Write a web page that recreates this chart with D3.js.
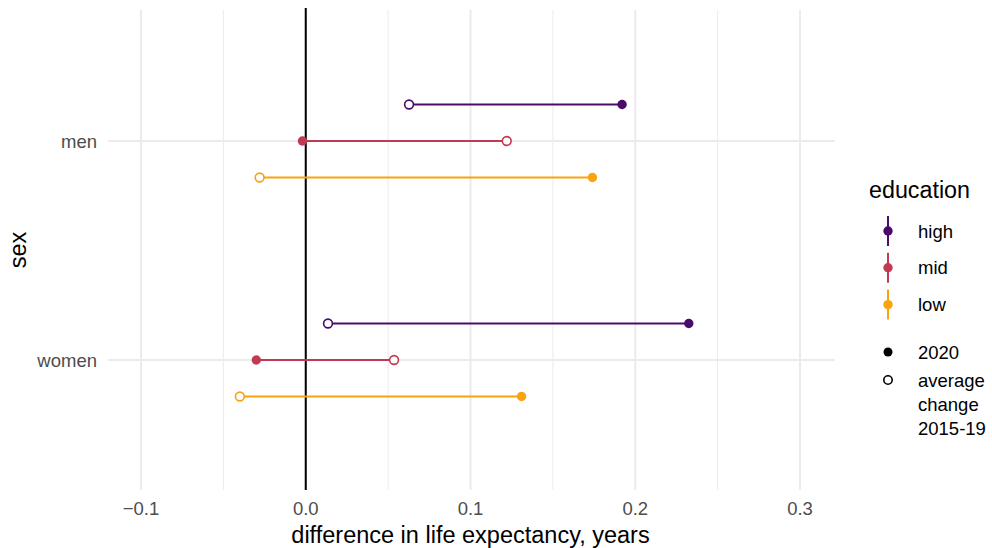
<!DOCTYPE html>
<html><head><meta charset="utf-8">
<script src="https://cdn.jsdelivr.net/npm/d3@7"></script>
<style>body{margin:0;background:#fff;} text{font-family:"Liberation Sans",Arial,Helvetica,sans-serif;}</style>
</head><body><svg id="c" width="992" height="548"></svg>
<script>
const sexes = ["men","women"];
const education = ["high","mid","low"];
const colors = ["#4a0c6b","#c03a52","#f9a30f"];
// values per sex, in education order
const value2020 = {men:[0.192,-0.002,0.174], women:[0.2325,-0.030,0.131]};
const avgChange = {men:[0.0627,0.122,-0.028], women:[0.0135,0.0536,-0.040]};
const xTicks = [-0.1,0,0.1,0.2,0.3];
const xMinor = [-0.05,0.05,0.15,0.25];

const svg = d3.select("#c");
const L=108,R=835,T=10,B=490;
const x = d3.scaleLinear().range([L,R]);
x.domain([-0.1 - (141-L)/1647.5, 0.3 + (R-800)/1647.5]);
const y = d3.scalePoint().domain(sexes).range([141,360]);
const dodge = d3.scalePoint().domain(education).range([-36.5,36.5]);

const g = svg.append("g");
g.selectAll(".minor").data(xMinor).join("line").attr("x1",d=>x(d)).attr("x2",d=>x(d)).attr("y1",T).attr("y2",B)
 .attr("stroke","#ebebeb").attr("stroke-width",1);
g.selectAll(".major").data(xTicks).join("line").attr("x1",d=>x(d)).attr("x2",d=>x(d)).attr("y1",T).attr("y2",B)
 .attr("stroke","#ebebeb").attr("stroke-width",2);
g.selectAll(".hy").data(sexes).join("line").attr("x1",L).attr("x2",R).attr("y1",d=>y(d)).attr("y2",d=>y(d))
 .attr("stroke","#ebebeb").attr("stroke-width",2);
g.append("line").attr("x1",x(0)).attr("x2",x(0)).attr("y1",T-2).attr("y2",B).attr("stroke","#000").attr("stroke-width",2);

const rows=[];
sexes.forEach(s=>education.forEach((e,i)=>rows.push({s,e,i,v:value2020[s][i],a:avgChange[s][i]})));
g.selectAll(".seg").data(rows).join("line")
 .attr("x1",d=>x(d.a)).attr("x2",d=>x(d.v))
 .attr("y1",d=>y(d.s)+dodge(d.e)).attr("y2",d=>y(d.s)+dodge(d.e))
 .attr("stroke",d=>colors[d.i]).attr("stroke-width",2.2);
g.selectAll(".open").data(rows).join("circle")
 .attr("cx",d=>x(d.a)).attr("cy",d=>y(d.s)+dodge(d.e)).attr("r",4.4)
 .attr("fill","#fff").attr("stroke",d=>colors[d.i]).attr("stroke-width",1.6);
g.selectAll(".fill").data(rows).join("circle")
 .attr("cx",d=>x(d.v)).attr("cy",d=>y(d.s)+dodge(d.e)).attr("r",4.7)
 .attr("fill",d=>colors[d.i]);

g.selectAll(".xt").data(xTicks).join("text").attr("x",d=>x(d)).attr("y",515)
 .attr("text-anchor","middle").attr("font-size",18.5).attr("fill","#4d4d4d")
 .text(d=>d===0?"0.0":d3.format(".1f")(d).replace("-","\u2212"));
g.selectAll(".yt").data(sexes).join("text").attr("x",97).attr("y",d=>y(d)+6.5)
 .attr("text-anchor","end").attr("font-size",18.5).attr("fill","#4d4d4d").text(d=>d);
svg.append("text").attr("x",x(0.1)).attr("y",543).attr("text-anchor","middle").attr("font-size",23.5).attr("fill","#000")
 .text("difference in life expectancy, years");
svg.append("text").attr("transform","translate(26,250) rotate(-90)").attr("text-anchor","middle").attr("font-size",23.5).attr("fill","#000").text("sex");

const lg = svg.append("g");
lg.append("text").attr("x",869).attr("y",198).attr("font-size",23.3).attr("fill","#000").text("education");
education.forEach((e,i)=>{
  const cy=231+i*36.8;
  lg.append("line").attr("x1",888).attr("x2",888).attr("y1",cy-15).attr("y2",cy+15).attr("stroke",colors[i]).attr("stroke-width",2);
  lg.append("circle").attr("cx",888).attr("cy",cy).attr("r",4.7).attr("fill",colors[i]);
  lg.append("text").attr("x",918).attr("y",cy+6.5).attr("font-size",18.5).attr("fill","#000").text(e);
});
lg.append("circle").attr("cx",888).attr("cy",352).attr("r",4.5).attr("fill","#000");
lg.append("text").attr("x",918).attr("y",358.5).attr("font-size",18.5).attr("fill","#000").text("2020");
lg.append("circle").attr("cx",888).attr("cy",380).attr("r",4.2).attr("fill","#fff").attr("stroke","#000").attr("stroke-width",1.6);
["average","change","2015-19"].forEach((t,k)=>
  lg.append("text").attr("x",918).attr("y",386.5+k*24).attr("font-size",18.5).attr("fill","#000").text(t));
</script></body></html>
